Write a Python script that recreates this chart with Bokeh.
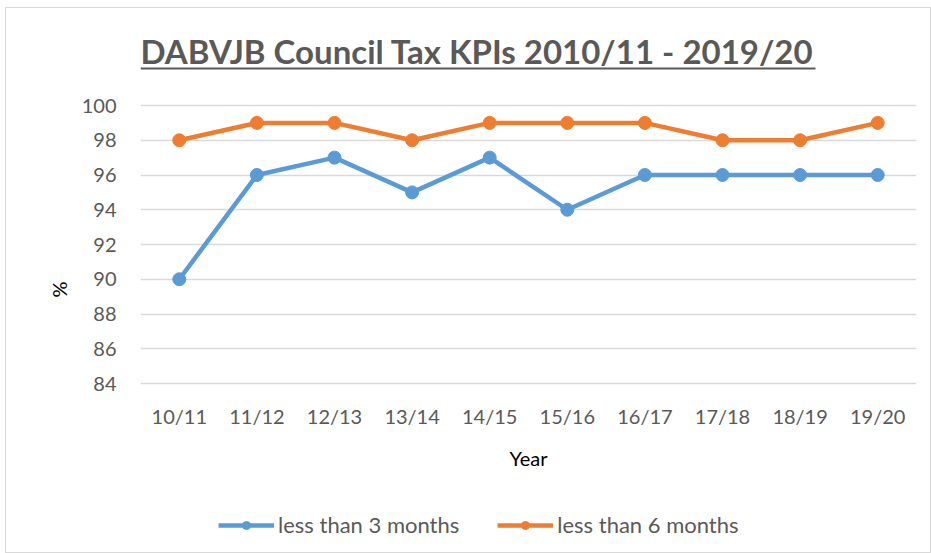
from bokeh.plotting import figure
from bokeh.models import Legend, LegendItem, FixedTicker, Range1d, Label, BoxAnnotation
from bokeh.core.properties import value
from bokeh.embed import file_html
from bokeh.resources import INLINE

years = ["10/11", "11/12", "12/13", "13/14", "14/15", "15/16", "16/17", "17/18", "18/19", "19/20"]
less_than_3 = [90, 96, 97, 95, 97, 94, 96, 96, 96, 96]
less_than_6 = [98, 99, 99, 98, 99, 99, 99, 98, 98, 99]
y_ticks = [84, 86, 88, 90, 92, 94, 96, 98, 100]
title_text = "DABVJB Council Tax KPIs 2010/11 - 2019/20"

BLUE = "#5B9BD5"
ORANGE = "#ED7D31"
TEXT = "#595959"
FONT = "Lato"

# layout (pixels)
GRID_H = 278          # height of the 84..100 gridded area
HEAD = 75             # blank band above the 100 gridline, holding the title
FOOT = 165            # band below the 84 gridline: x labels, axis title, legend
FRAME_W = 776
ppu = GRID_H / (y_ticks[-1] - y_ticks[0])
y_top = y_ticks[-1] + HEAD / ppu
y_bottom = y_ticks[0] - FOOT / ppu

xpos = [i + 0.5 for i in range(len(years))]

p = figure(x_range=Range1d(0, len(years)), y_range=Range1d(y_bottom, y_top),
           output_backend="svg", toolbar_location=None,
           frame_width=FRAME_W, frame_height=GRID_H + HEAD + FOOT,
           min_border_left=134, min_border_top=22, min_border_right=14, min_border_bottom=4)
p.styles = {"border": "1px solid #D9D9D9", "margin-left": "5px", "margin-top": "7px"}
p.outline_line_color = None
p.background_fill_color = "white"
p.border_fill_color = "white"
p.title.text = ""

r1 = p.line(xpos, less_than_3, line_color=BLUE, line_width=4.5)
s1 = p.scatter(xpos, less_than_3, size=13, fill_color=BLUE, line_color=BLUE)
r2 = p.line(xpos, less_than_6, line_color=ORANGE, line_width=4.5)
s2 = p.scatter(xpos, less_than_6, size=13, fill_color=ORANGE, line_color=ORANGE)

p.xgrid.grid_line_color = None
p.ygrid.grid_line_color = "#D9D9D9"
p.ygrid.grid_line_width = 1.5
p.yaxis.ticker = FixedTicker(ticks=y_ticks)
p.xaxis.visible = False

yax = p.yaxis[0]
yax.axis_line_color = None
yax.major_tick_line_color = None
yax.minor_tick_line_color = None
yax.major_tick_out = 0
yax.major_tick_in = 0
yax.major_label_text_font = FONT
yax.major_label_text_font_size = "20px"
yax.major_label_text_color = TEXT
yax.axis_label = "%"
yax.axis_label_text_font = FONT
yax.axis_label_text_font_size = "20px"
yax.axis_label_text_color = "#000000"
yax.axis_label_text_font_style = "normal"
yax.major_label_standoff = 24
yax.axis_label_standoff = 8

# category labels under the grid, and the axis title
p.text(x=xpos, y=[y_ticks[0] - 32 / ppu] * len(years), text=years,
       text_font=value(FONT), text_font_size="20px", text_color=TEXT,
       text_align="center", text_baseline="middle")
p.add_layout(Label(x=len(years) / 2, y=y_ticks[0] - 74 / ppu, text="Year",
                   text_font=FONT, text_font_size="20px", text_color="#000000",
                   text_align="center", text_baseline="middle"))

# title and its underline, in the blank band above the grid
p.add_layout(Label(x=0, y=y_ticks[-1] + 55 / ppu, text=title_text,
                   text_font=FONT, text_font_size="33px", text_font_style="bold",
                   text_color=TEXT, text_align="left", text_baseline="alphabetic"))
p.add_layout(BoxAnnotation(left=0, right=len(years) * 675 / FRAME_W,
                           bottom=y_ticks[-1] + 36 / ppu, top=y_ticks[-1] + 38 / ppu,
                           fill_color=TEXT, fill_alpha=1, line_color=None))

legend = Legend(items=[LegendItem(label="less than 3 months", renderers=[r1, s1]),
                       LegendItem(label="less than 6 months", renderers=[r2, s2])],
                orientation="horizontal", location=(78, 10),
                glyph_width=56, glyph_height=20, label_standoff=4, spacing=38,
                label_text_font=FONT, label_text_font_size="22px", label_text_color=TEXT,
                border_line_color=None, background_fill_alpha=0, margin=0, padding=0)
p.add_layout(legend, "center")

open("out.html", "w").write(file_html(p, INLINE))
